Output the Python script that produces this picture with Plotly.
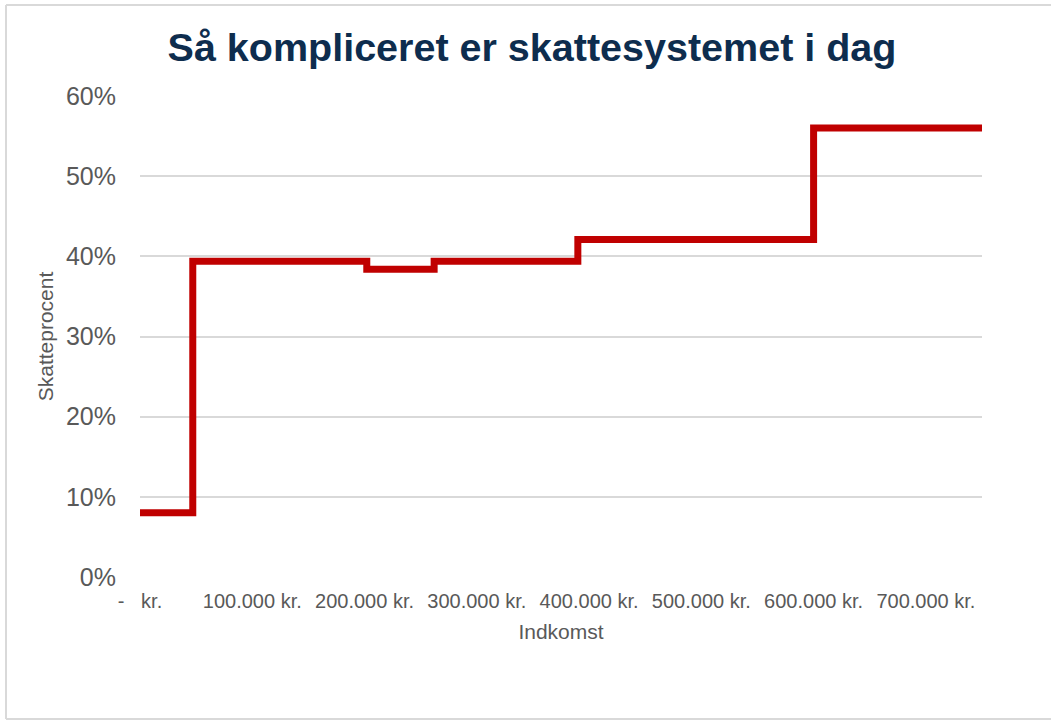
import plotly.graph_objects as go

# Data (income thresholds in kr., tax rate as fraction)
income = [0, 47000, 202000, 262000, 390000, 600000, 750000]
tax_rate = [0.08, 0.394, 0.384, 0.394, 0.421, 0.56, 0.56]

x_tickvals = [0, 100000, 200000, 300000, 400000, 500000, 600000, 700000]
x_ticktext = ["-\u00a0\u00a0\u00a0kr.", "100.000 kr.", "200.000 kr.", "300.000 kr.",
              "400.000 kr.", "500.000 kr.", "600.000 kr.", "700.000 kr."]
y_tickvals = [0, 0.1, 0.2, 0.3, 0.4, 0.5, 0.6]
y_ticktext = ["0%", "10%", "20%", "30%", "40%", "50%", "60%"]

W, H = 1051, 720
L, R, T, B = 140, 69, 96, 143
pw, ph = W - L - R, H - T - B

def px(x):
    return (x - L) / pw

def py(y):
    return (H - B - y) / ph

fig = go.Figure()
fig.add_trace(go.Scatter(
    x=income, y=tax_rate, mode="lines", line_shape="hv",
    line=dict(color="#C00000", width=7), hoverinfo="skip", showlegend=False,
))

gray = "#595959"
fig.update_layout(
    width=W, height=H,
    margin=dict(l=L, r=R, t=T, b=B),
    paper_bgcolor="white", plot_bgcolor="white",
    font=dict(family="Liberation Sans, Arial, sans-serif", color=gray),
    title=dict(
        text="<b>Så kompliceret er skattesystemet i dag</b>",
        x=px(532), xref="paper", xanchor="center",
        y=1 - 47 / H, yref="container", yanchor="middle",
        font=dict(size=39.5, color="#0E2D4E", family="Liberation Sans, Arial, sans-serif"),
    ),
    xaxis=dict(
        range=[0, 750000], tickvals=x_tickvals, ticktext=x_ticktext,
        showgrid=False, zeroline=False, showline=False, ticks="",
        ticklabelstandoff=10,
        tickfont=dict(size=20, color=gray),
        title=dict(text="Indkomst", font=dict(size=21, color=gray), standoff=13),
    ),
    yaxis=dict(
        range=[0, 0.6], tickvals=y_tickvals, ticktext=y_ticktext,
        showgrid=True, gridcolor="#D9D9D9", gridwidth=1.5, zeroline=False,
        showline=False, ticks="", ticklabelstandoff=23,
        tickfont=dict(size=25, color=gray),
        title=dict(text="Skatteprocent", font=dict(size=21, color=gray), standoff=6),
    ),
)

border = dict(color="#D9D9D9", width=2)
fig.add_shape(type="line", xref="paper", yref="paper",
              x0=px(6), x1=px(1060), y0=py(5), y1=py(5), line=border)
fig.add_shape(type="line", xref="paper", yref="paper",
              x0=px(6), x1=px(6), y0=py(5), y1=py(719), line=border)
fig.add_shape(type="line", xref="paper", yref="paper",
              x0=px(6), x1=px(1060), y0=py(719), y1=py(719), line=border)

fig.write_html("out.html", config={"displayModeBar": False},
               post_script="document.body.style.margin='0';")
